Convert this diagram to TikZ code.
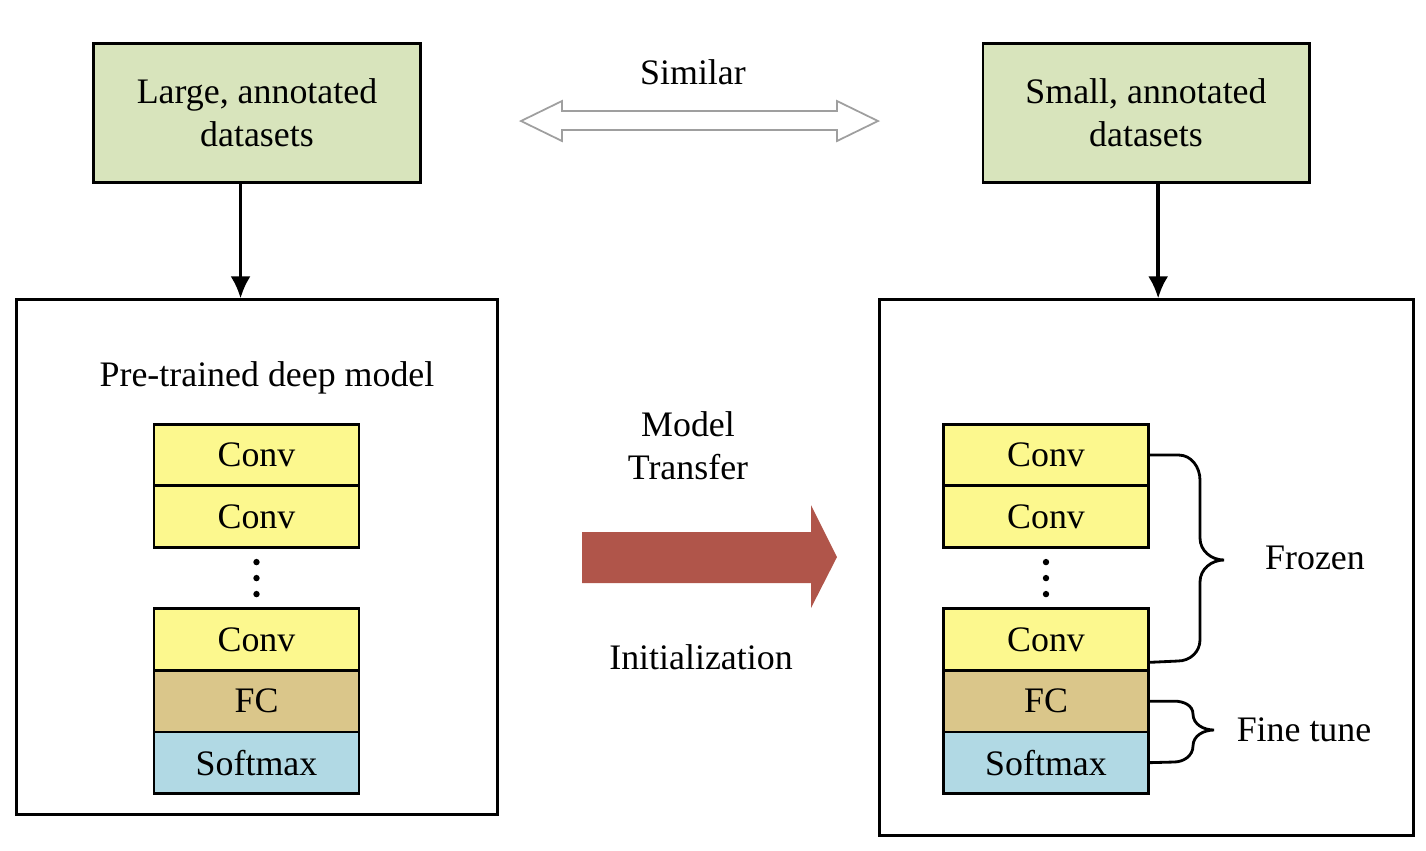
\documentclass[tikz,border=0pt]{standalone}
\usepackage{fontspec}
\setmainfont{Liberation Serif}
\usetikzlibrary{calc, positioning, arrows.meta}
\definecolor{dataGreen}{HTML}{D8E4BC}
\definecolor{convYellow}{HTML}{FCF88E}
\definecolor{fcTan}{HTML}{DAC68A}
\definecolor{softBlue}{HTML}{B1D9E4}
\definecolor{transRed}{HTML}{B0554A}
\tikzset{>=latex}

\begin{document}
\begin{tikzpicture}[x=0.01cm, y=-0.01cm,
  font=\fontsize{10.2}{12.2}\selectfont,
  data/.style={draw, line width=0.8pt, fill=dataGreen, minimum width=3.26cm,
    minimum height=1.39cm, align=center},
  frame/.style={draw, line width=0.8pt},
  layer/.style={draw, line width=0.8pt, minimum width=2.05cm,
    minimum height=0.615cm, outer sep=0pt, inner sep=0pt},
  gap/.style={minimum width=2.05cm, minimum height=0.615cm, outer sep=0pt, inner sep=0pt},
  brace/.style={line width=0.8pt},
  flow/.style={-{Latex[length=0.22cm, width=0.2cm]}, line width=1pt}]
  \useasboundingbox (0,0) rectangle (1426,850);

  % DATASETS
  \node[data] (large) at (257,113) {Large, annotated\\datasets};
  \node[data] (small) at (1146,113) {Small, annotated\\datasets};

  % MODEL FRAMES
  \node[frame, minimum width=4.80cm, minimum height=5.14cm] (pretrain) at (257,557) {};
  \node[frame, minimum width=5.33cm, minimum height=5.35cm] (target) at (1146.5,567.5) {};
  \node (ptlabel) at (267,378) {Pre-trained deep model};

  \draw[flow] ($(large.south west)!0.45!(large.south east)$) coordinate (a1) -- (a1 |- pretrain.north);
  \draw[flow] ($(small.south west)!0.537!(small.south east)$) coordinate (a2) -- (a2 |- target.north);

  % LEFT STACK
  \node[layer, fill=convYellow] (lconv1) at (256.5,455) {Conv};
  \node[layer, fill=convYellow, below=0pt of lconv1] (lconv2) {Conv};
  \node[gap, below=0pt of lconv2] (ldots) {};
  \node[layer, fill=convYellow, below=0pt of ldots] (lconv3) {Conv};
  \node[layer, fill=fcTan, below=0pt of lconv3] (lfc) {FC};
  \node[layer, fill=softBlue, below=0pt of lfc] (lsoft) {Softmax};

  % RIGHT STACK
  \node[layer, fill=convYellow] (rconv1) at (1046,455) {Conv};
  \node[layer, fill=convYellow, below=0pt of rconv1] (rconv2) {Conv};
  \node[gap, below=0pt of rconv2] (rdots) {};
  \node[layer, fill=convYellow, below=0pt of rdots] (rconv3) {Conv};
  \node[layer, fill=fcTan, below=0pt of rconv3] (rfc) {FC};
  \node[layer, fill=softBlue, below=0pt of rfc] (rsoft) {Softmax};

  \foreach \d in {ldots, rdots} {
    \fill (\d.center) ++(0,-16) circle (3.2);
    \fill (\d.center) circle (3.2);
    \fill (\d.center) ++(0,16) circle (3.2);
  }

  % SIMILAR
  \node (similar) at (693,72) {Similar};
  \draw[gray!75, line width=0.5pt]
    (521,121) -- (562,101) -- (562,111) -- (837,111) -- (837,101) -- (878,121)
    -- (837,141) -- (837,130) -- (562,130) -- (562,141) -- cycle;

  % TRANSFER
  \node[align=center] (transfer) at (688,446) {Model\\Transfer};
  \node (init) at (701,657) {Initialization};
  \fill[transRed]
    (582,532) -- (811,532) -- (811,505) -- (837,557) -- (811,608) -- (811,583) -- (582,583) -- cycle;

  % BRACES
  \draw[brace]
    (rconv1.east) -- ++(30,0) to[out=0,in=90]
    (1200,480) -- (1200,538) to[out=-90,in=180]
    (1224,560) coordinate (frtip) to[out=180,in=90]
    (1200,582) -- (1200,640) to[out=-90,in=0]
    (1178,661) -- ($(rconv3.south east)+(0,-8)$);
  \draw[brace]
    (rfc.east) -- ++(26,0) to[out=0,in=90]
    (1193,714) to[out=-90,in=180]
    (1214,730) coordinate (fttip) to[out=180,in=90]
    (1193,746) to[out=-90,in=0]
    (1174,762) -- (rsoft.east);
  \node (frozen) at (1315,558) {Frozen};
  \node (finetune) at (1304,730) {Fine tune};
\end{tikzpicture}
\end{document}
